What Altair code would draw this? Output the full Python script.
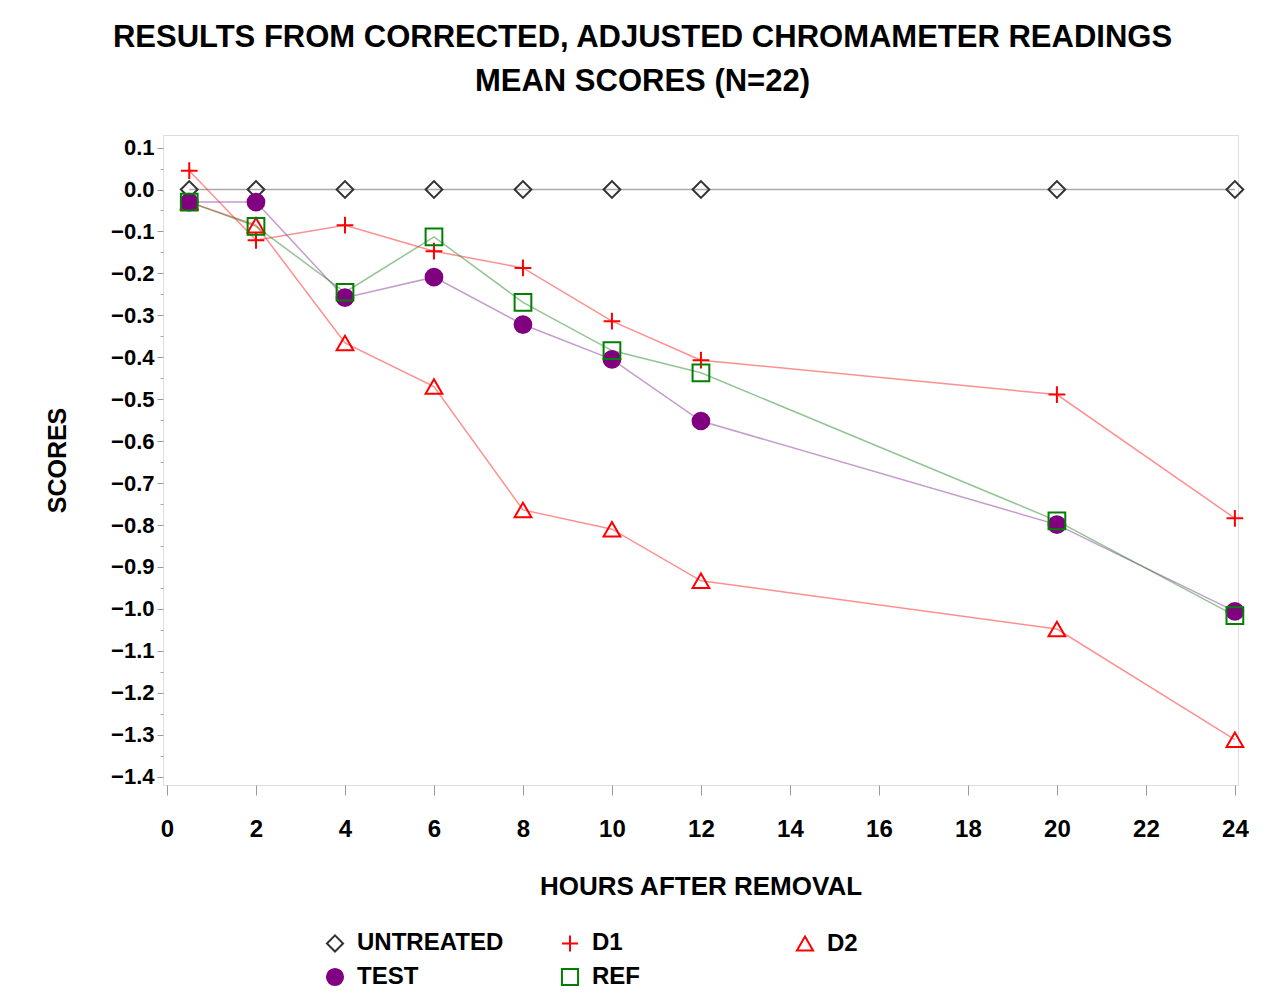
import altair as alt
import pandas as pd

# ---- data ----
hours = [0.5, 2, 4, 6, 8, 10, 12, 20, 24]
series = ["UNTREATED", "D1", "D2", "TEST", "REF"]
untreated = [0.0, 0.0, 0.0, 0.0, 0.0, 0.0, 0.0, 0.0, 0.0]
d1 = [0.045, -0.121, -0.085, -0.147, -0.187, -0.314, -0.407, -0.489, -0.784]
d2 = [-0.030, -0.085, -0.366, -0.470, -0.764, -0.810, -0.933, -1.048, -1.312]
test = [-0.030, -0.030, -0.258, -0.209, -0.322, -0.405, -0.552, -0.799, -1.006]
ref = [-0.030, -0.088, -0.245, -0.113, -0.269, -0.384, -0.437, -0.790, -1.016]

y_ticks = [round(-1.4 + 0.1 * i, 1) for i in range(16)]
y_minor = [round(-1.35 + 0.1 * i, 2) for i in range(15)]
x_ticks = list(range(0, 25, 2))

title_lines = ["RESULTS FROM CORRECTED, ADJUSTED CHROMAMETER READINGS", "MEAN SCORES (N=22)"]

values = {"UNTREATED": untreated, "D1": d1, "D2": d2, "TEST": test, "REF": ref}
rows = []
for s in series:
    for h, v in zip(hours, values[s]):
        rows.append({"series": s, "hours": h, "score": v})
df = pd.DataFrame(rows)

FONT = "Liberation Sans"
PLUS = "M-1,0L1,0M0,-1L0,1"

x_scale = alt.Scale(domain=[-0.09, 24.07], nice=False, zero=False)
y_scale = alt.Scale(domain=[-1.42, 0.13], nice=False, zero=False)

line_colors = {"UNTREATED": "#555555", "D1": "#ff2020", "D2": "#ff2020",
               "TEST": "#8a3a9a", "REF": "#2a8a2a"}
marker_colors = ["#333333", "#ff0000", "#ff0000", "#800080", "#008000"]

x_axis = alt.Axis(values=x_ticks, title="HOURS AFTER REMOVAL", format="d",
                  tickSize=10, tickColor="#999999", domain=False,
                  labelPadding=22, labelFont=FONT, labelFontSize=24,
                  labelFontWeight="bold", labelColor="black",
                  titleFont=FONT, titleFontSize=26, titleFontWeight="bold",
                  titleColor="black", titlePadding=32, grid=False)
y_axis = alt.Axis(values=y_ticks, format=".1f", title="SCORES", orient="left",
                  tickSize=6, tickColor="#999999", domain=False,
                  labelPadding=3, labelFont=FONT, labelFontSize=22,
                  labelFontWeight="bold", labelColor="black",
                  titleFont=FONT, titleFontSize=25, titleFontWeight="bold",
                  titleColor="black", titlePadding=40, grid=False)

line_layers = []
for i, s in enumerate(series):
    enc_y = alt.Y("score:Q", scale=y_scale, axis=y_axis if i == 0 else None)
    line_layers.append(
        alt.Chart(df).transform_filter(alt.datum.series == s)
        .mark_line(strokeWidth=1.5, opacity=0.5, color=line_colors[s])
        .encode(x=alt.X("hours:Q", scale=x_scale, axis=x_axis), y=enc_y, order="hours:Q")
    )

leg = alt.Legend(title=None, orient="none", legendX=160, legendY=796, columns=3,
                 direction="horizontal",
                 gridAlign="all", columnPadding=53, rowPadding=8,
                 labelFont=FONT, labelFontSize=24, labelFontWeight="bold",
                 labelColor="black", symbolSize=260, symbolStrokeWidth=2,
                 labelOffset=10, labelLimit=400)

points = alt.Chart(df).mark_point(filled=False, strokeWidth=2, size=280, opacity=1).encode(
    x=alt.X("hours:Q", scale=x_scale, axis=x_axis),
    y=alt.Y("score:Q", scale=y_scale,
            axis=alt.Axis(values=y_minor, labels=False, title=None, orient="left",
                          tickSize=3, tickColor="#aaaaaa", domain=False, grid=False)),
    color=alt.Color("series:N", scale=alt.Scale(domain=series, range=marker_colors), legend=leg),
    shape=alt.Shape("series:N", scale=alt.Scale(domain=series,
                    range=["diamond", PLUS, "triangle-up", "circle", "square"]), legend=leg),
    fill=alt.Fill("series:N", scale=alt.Scale(domain=series,
                  range=["transparent", "transparent", "transparent", "#800080", "transparent"]), legend=leg),
)

chart = alt.layer(*line_layers, points).resolve_axis(y="independent").properties(
    width=1075, height=650,
    padding={"left": 163, "top": 135, "right": 47, "bottom": 218},
    autosize=alt.AutoSizeParams(type="none"),
    title=alt.Title(title_lines, font=FONT, fontSize=31, fontWeight="bold", color="black",
                    lineHeight=44, anchor="middle", dx=-58, offset=37),
).configure_view(stroke="#b0b0b0", strokeWidth=2).configure(background="white")

chart.save("out.html", embed_options={"renderer": "svg", "actions": False})
